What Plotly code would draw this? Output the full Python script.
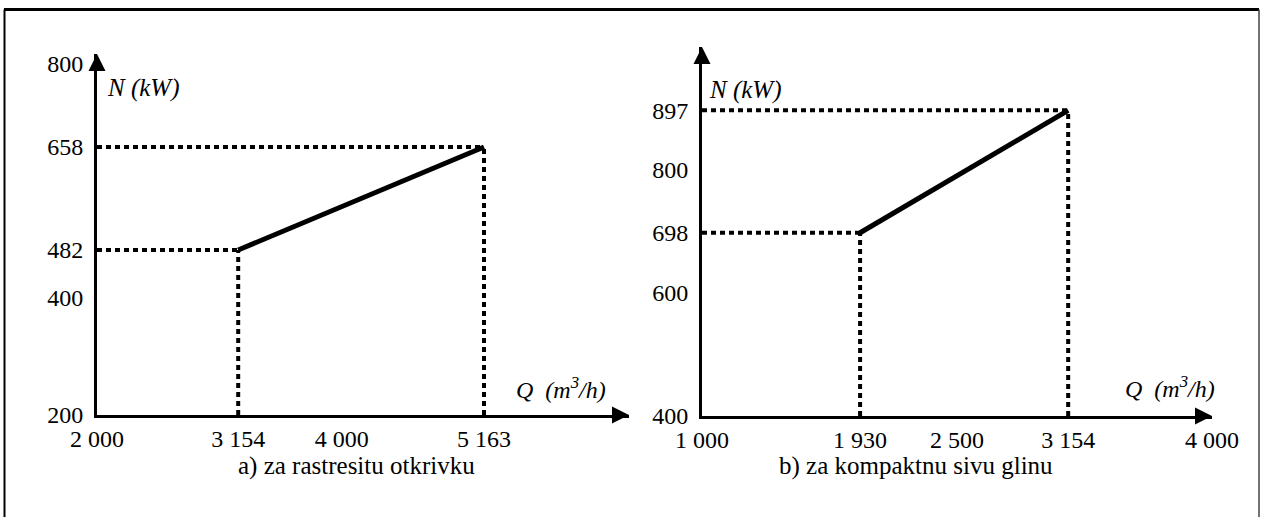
import plotly.graph_objects as go

W, H = 1261, 517

# panel a) za rastresitu otkrivku
qa = [3154, 5163]
na = [482, 658]
qa_ticks = [2000, 3154, 4000, 5163]
qa_text = ["2 000", "3 154", "4 000", "5 163"]
na_ticks = [200, 400, 482, 658, 800]

# panel b) za kompaktnu sivu glinu
qb = [1930, 3154]
nb = [698, 897]
qb_ticks = [1000, 1930, 2500, 3154, 4000]
qb_text = ["1 000", "1 930", "2 500", "3 154", "4 000"]
nb_ticks = [400, 600, 698, 800, 897]

xa_range = [2000, 6348]
ya_range = [200, 817]
xb_range = [1000, 4000]
yb_range = [400, 1000]

FONT = "Times New Roman"
DOT = "5px,4px"


def px_x(p):
    return p / W


def px_y(p):
    return 1 - p / H


fig = go.Figure()


def add_panel(fig, q, n, xr, yr, xa, ya):
    # solid characteristic
    fig.add_trace(go.Scatter(x=q, y=n, mode="lines", xaxis=xa, yaxis=ya,
                             line=dict(color="black", width=5), showlegend=False,
                             hoverinfo="skip"))
    # dotted guides to the axes
    for qi, ni in zip(q, n):
        fig.add_trace(go.Scatter(x=[xr[0], qi], y=[ni, ni], mode="lines", xaxis=xa, yaxis=ya,
                                 line=dict(color="black", width=4, dash=DOT),
                                 showlegend=False, hoverinfo="skip"))
        fig.add_trace(go.Scatter(x=[qi, qi], y=[yr[0], ni], mode="lines", xaxis=xa, yaxis=ya,
                                 line=dict(color="black", width=4, dash=DOT),
                                 showlegend=False, hoverinfo="skip"))
    # arrow tips at the ends of both axes
    fig.add_trace(go.Scatter(x=[xr[1], xr[0]], y=[yr[0], yr[1]], mode="markers",
                             xaxis=xa, yaxis=ya, cliponaxis=False,
                             marker=dict(symbol=["arrow-right", "arrow-up"], size=17,
                                         color="black", line=dict(width=0)),
                             showlegend=False, hoverinfo="skip"))


add_panel(fig, qa, na, xa_range, ya_range, "x", "y")
add_panel(fig, qb, nb, xb_range, yb_range, "x2", "y2")

axis_common = dict(showgrid=False, zeroline=False, showline=True, linecolor="black",
                   linewidth=3, ticks="", automargin=False,
                   tickfont=dict(family=FONT, size=24, color="black"))

fig.update_layout(
    width=W, height=H,
    margin=dict(l=0, r=0, t=0, b=0),
    paper_bgcolor="white", plot_bgcolor="white",
    template="none",
    font=dict(family=FONT, size=24, color="black"),
    xaxis=dict(axis_common, domain=[px_x(97), px_x(629)], range=xa_range,
               tickvals=qa_ticks, ticktext=qa_text, anchor="y", ticklabelstandoff=0),
    yaxis=dict(axis_common, domain=[px_y(415), px_y(54)], range=ya_range,
               tickvals=na_ticks, anchor="x", ticklabelstandoff=6),
    xaxis2=dict(axis_common, domain=[px_x(702), px_x(1212)], range=xb_range,
                tickvals=qb_ticks, ticktext=qb_text, anchor="y2", ticklabelstandoff=0),
    yaxis2=dict(axis_common, domain=[px_y(416), px_y(47)], range=yb_range,
                tickvals=nb_ticks, anchor="x2", ticklabelstandoff=6),
)

labels = [
    ("<i>N (kW)</i>", 105, 88, "left", 25),
    ("<i>N (kW)</i>", 707, 90, "left", 25),
    ("<i>Q  (m<sup>3</sup>/h)</i>", 514, 388, "left", 24),
    ("<i>Q  (m<sup>3</sup>/h)</i>", 1123, 387, "left", 24),
    ("a) za rastresitu otkrivku", 356, 466, "center", 25),
    ("b) za kompaktnu sivu glinu", 916, 466, "center", 25),
]
for txt, x, y, anc, size in labels:
    fig.add_annotation(text=txt, x=px_x(x), y=px_y(y), xref="paper", yref="paper",
                       showarrow=False, xanchor=anc, yanchor="middle",
                       font=dict(family=FONT, size=size, color="black"))

# outer frame
fig.add_shape(type="line", xref="paper", yref="paper", x0=px_x(4), x1=px_x(1259),
              y0=px_y(9.5), y1=px_y(9.5), line=dict(color="black", width=3))
fig.add_shape(type="line", xref="paper", yref="paper", x0=px_x(4.5), x1=px_x(4.5),
              y0=0, y1=px_y(9.5), line=dict(color="black", width=2))
fig.add_shape(type="line", xref="paper", yref="paper", x0=px_x(1259), x1=px_x(1259),
              y0=0, y1=px_y(9.5), line=dict(color="#444", width=1.5))

# page body has a default 8px margin; drop it so the figure fills the window
fig.write_html("out.html", config={"displayModeBar": False},
               post_script="document.body.style.margin='0';")
